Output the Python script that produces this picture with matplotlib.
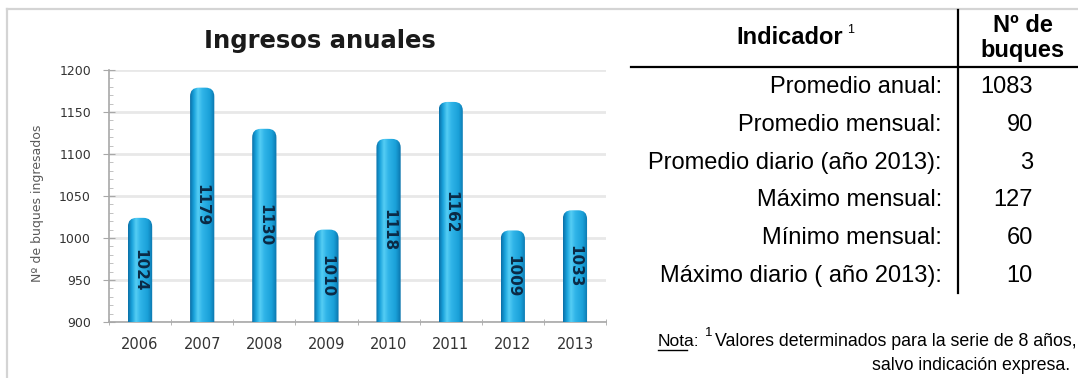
import numpy as np
import matplotlib.pyplot as plt
from matplotlib.colors import LinearSegmentedColormap
from matplotlib.patches import FancyBboxPatch
from matplotlib.lines import Line2D
from matplotlib.ticker import MultipleLocator

W, H = 1078, 378

years = ['2006', '2007', '2008', '2009', '2010', '2011', '2012', '2013']
ingresos = [1024, 1179, 1130, 1010, 1118, 1162, 1009, 1033]

indicadores = ['Promedio anual:', 'Promedio mensual:', 'Promedio diario (año 2013):',
               'Máximo mensual:', 'Mínimo mensual:', 'Máximo diario ( año 2013):']
n_buques = [1083, 90, 3, 127, 60, 10]


def fx(x):
    return x / W


def fy(y):
    return 1 - y / H


fig = plt.figure(figsize=(W / 100, H / 100), dpi=100)

# light frame around the chart panel
fig.add_artist(Line2D([fx(7), fx(7)], [fy(9), 0], color='#d4d4d4', lw=1.6))
fig.add_artist(Line2D([fx(7), 1], [fy(9), fy(9)], color='#d4d4d4', lw=1.6))

ax = fig.add_axes([fx(109), fy(322), fx(606) - fx(109), fy(70) - fy(322)])

# cylinder look: horizontal shading across each bar
cyl = LinearSegmentedColormap.from_list('cyl', [
    (0.0, '#0a70a8'), (0.15, '#19a2db'), (0.32, '#55cdf4'), (0.5, '#2fb4e8'),
    (0.8, '#1aa0d8'), (1.0, '#0b74ac')])
grad = np.linspace(0, 1, 64).reshape(1, -1)

bw = 0.39
for i, v in enumerate(ingresos):
    box = FancyBboxPatch((i - bw / 2, 880), bw, v - 880,
                         boxstyle='round,pad=0,rounding_size=0.14',
                         mutation_aspect=74, fc='none', ec='none')
    ax.add_patch(box)
    im = ax.imshow(grad, cmap=cyl, extent=(i - bw / 2, i + bw / 2, 880, v),
                   aspect='auto', zorder=3, interpolation='bilinear')
    im.set_clip_path(box)
    ax.text(i, (v + 900) / 2, str(v), rotation=270, ha='center', va='center',
            fontsize=11, fontweight='bold', color='#0b2a45', zorder=4)

ax.set_xlim(-0.5, len(years) - 0.5)
ax.set_ylim(900, 1200)
ax.set_yticks(range(900, 1201, 50))
ax.yaxis.set_minor_locator(MultipleLocator(10))
ax.set_xticks(range(len(years)))
ax.set_xticklabels(years)
ax.set_xticks(np.arange(-0.5, len(years)), minor=True)

ax.yaxis.grid(True, color='#e8e8e8', lw=2)
ax.set_axisbelow(True)
for s in ['top', 'right']:
    ax.spines[s].set_visible(False)
for s in ['left', 'bottom']:
    ax.spines[s].set_color('#a8a8a8')
    ax.spines[s].set_linewidth(1.2)

ax.tick_params(axis='y', which='major', direction='inout', length=8, color='#a8a8a8',
               labelsize=9, labelcolor='#333333', pad=9)
ax.tick_params(axis='y', which='minor', direction='in', length=3, color='#b8b8b8')
ax.tick_params(axis='x', which='major', length=0, labelsize=10.5, labelcolor='#333333', pad=11)
ax.tick_params(axis='x', which='minor', direction='inout', length=5, color='#a8a8a8')

fig.text(fx(38), fy(203), 'Nº de buques ingresados', rotation=90, ha='center', va='center',
         fontsize=9, color='#5a5a5a')
fig.text(fx(320), fy(41), 'Ingresos anuales', ha='center', va='center',
         fontsize=17.5, fontweight='bold', color='#1a1a1a')

# summary table
tf = 'Liberation Sans'
fig.text(fx(790), fy(38), 'Indicador', ha='center', va='center', family=tf,
         fontsize=17, fontweight='bold')
fig.text(fx(847), fy(30), '1', ha='left', va='center', family=tf, fontsize=9)
fig.text(fx(1023), fy(25), 'Nº de', ha='center', va='center', family=tf,
         fontsize=17, fontweight='bold')
fig.text(fx(1023), fy(51), 'buques', ha='center', va='center', family=tf,
         fontsize=17, fontweight='bold')
fig.add_artist(Line2D([fx(631), 1], [fy(67), fy(67)], color='black', lw=1.6))
fig.add_artist(Line2D([fx(958), fx(958)], [fy(10), fy(293)], color='black', lw=1.6))

row_y = [87, 125, 163, 200, 238, 276]
for yy, name, val in zip(row_y, indicadores, n_buques):
    fig.text(fx(942), fy(yy), name, ha='right', va='center', family=tf, fontsize=17)
    fig.text(fx(1033), fy(yy), str(val), ha='right', va='center', family=tf, fontsize=17)

nf = ['Liberation Sans Narrow', 'Liberation Sans']
fig.text(fx(658), fy(342), 'Nota:', ha='left', va='center', family=nf, fontsize=12.5)
fig.add_artist(Line2D([fx(658), fx(687)], [fy(350), fy(350)], color='black', lw=1))
fig.text(fx(705), fy(333), '1', ha='left', va='center', family=nf, fontsize=9.5)
fig.text(fx(1077), fy(342), 'Valores determinados para la serie de 8 años,', ha='right',
         va='center', family=nf, fontsize=12.8)
fig.text(fx(1070), fy(366), 'salvo indicación expresa.', ha='right', va='center',
         family=nf, fontsize=12.8)

fig.savefig('out.png', dpi=100)
